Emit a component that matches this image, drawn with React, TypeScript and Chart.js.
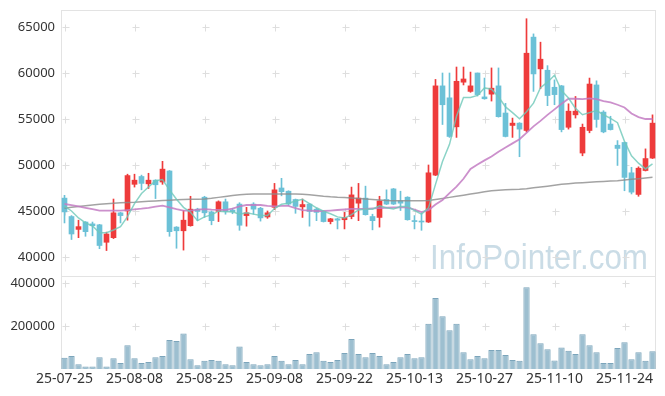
import React, { useEffect, useRef } from 'react';
import { Chart, registerables } from 'chart.js';

Chart.register(...registerables);

const dates = [
  '25-07-25', '25-07-28', '25-07-29', '25-07-30', '25-07-31', '25-08-01', '25-08-04', '25-08-05', '25-08-06', '25-08-07',
  '25-08-08', '25-08-11', '25-08-12', '25-08-13', '25-08-14', '25-08-18', '25-08-19', '25-08-20', '25-08-21', '25-08-22',
  '25-08-25', '25-08-26', '25-08-27', '25-08-28', '25-08-29', '25-09-01', '25-09-02', '25-09-03', '25-09-04', '25-09-05',
  '25-09-08', '25-09-09', '25-09-10', '25-09-11', '25-09-12', '25-09-15', '25-09-16', '25-09-17', '25-09-18', '25-09-19',
  '25-09-22', '25-09-23', '25-09-24', '25-09-25', '25-09-26', '25-09-29', '25-09-30', '25-10-01', '25-10-02', '25-10-10',
  '25-10-13', '25-10-14', '25-10-15', '25-10-16', '25-10-17', '25-10-20', '25-10-21', '25-10-22', '25-10-23', '25-10-24',
  '25-10-27', '25-10-28', '25-10-29', '25-10-30', '25-10-31', '25-11-03', '25-11-04', '25-11-05', '25-11-06', '25-11-07',
  '25-11-10', '25-11-11', '25-11-12', '25-11-13', '25-11-14', '25-11-17', '25-11-18', '25-11-19', '25-11-20', '25-11-21',
  '25-11-24', '25-11-25', '25-11-26', '25-11-27', '25-11-28',
];

const opens = [
  46400, 44400, 43000, 43800, 43600, 43500, 41600, 42100, 44800, 45000,
  47900, 48750, 47950, 48350, 48150, 49350, 43250, 42850, 43400, 45200,
  46500, 44900, 44950, 46000, 45100, 45750, 44500, 45750, 45300, 44350,
  45400, 47500, 47150, 46250, 45450, 45750, 45200, 44950, 43850, 44150,
  44050, 44400, 45850, 46400, 44400, 44300, 46250, 47400, 46100, 46500,
  43900, 43900, 43800, 48900, 58600, 57300, 54150, 59000, 58000, 60000,
  57400, 57700, 58600, 55650, 54300, 54550, 53750, 63900, 60450, 60300,
  58450, 58600, 54100, 55450, 51300, 53750, 58700, 55750, 54450, 52150,
  52450, 49150, 46800, 49400, 50750,
];

const highs = [
  46700, 44500, 44000, 43850, 43800, 43550, 42700, 46300, 44850, 49000,
  49000, 48900, 49100, 48400, 50400, 49400, 43300, 45050, 46600, 45300,
  46600, 45000, 46100, 46300, 45300, 45900, 45400, 45900, 45400, 45000,
  48000, 48550, 47200, 46300, 46300, 45800, 45300, 45000, 44200, 44200,
  44850, 47600, 48000, 47700, 44650, 46600, 47300, 47450, 47150, 46550,
  44500, 44800, 50000, 59300, 60000, 60000, 60650, 60650, 60100, 60000,
  59450, 60550, 60550, 56700, 55100, 54600, 65900, 64250, 63350, 60800,
  59250, 58650, 56650, 57450, 54450, 59450, 59150, 55900, 55300, 52650,
  52500, 49750, 49800, 51750, 55450,
];

const lows = [
  43700, 41900, 42100, 42250, 42300, 40900, 40700, 42000, 43700, 44000,
  47600, 47300, 47450, 46350, 47900, 42250, 40950, 40750, 43350, 43950,
  44300, 43500, 43850, 44650, 44700, 42900, 43350, 44650, 43900, 44200,
  45150, 46650, 45600, 44750, 44300, 43350, 43950, 43800, 43600, 43050,
  43050, 44150, 43950, 44550, 42950, 43250, 45700, 45700, 45050, 44000,
  43050, 42900, 43750, 48850, 54400, 53000, 53000, 58700, 57900, 57500,
  57150, 56950, 55200, 53050, 53000, 50900, 53600, 58000, 58300, 56450,
  56550, 53600, 53900, 55100, 51000, 53500, 54100, 53500, 53800, 49950,
  47200, 46850, 46600, 49350, 50700,
];

const closes = [
  44900, 42500, 43300, 42750, 43400, 41250, 42500, 44800, 44500, 48850,
  48350, 48000, 48350, 47850, 49550, 42750, 42850, 44000, 45200, 44950,
  44800, 43950, 46000, 44950, 44900, 43450, 44800, 45200, 44250, 44800,
  47300, 47100, 45750, 45500, 45700, 44950, 44850, 43850, 44150, 44000,
  44300, 46750, 46400, 44600, 43950, 46100, 45750, 45750, 45850, 44050,
  43850, 43800, 49150, 58600, 56550, 53100, 59100, 59350, 58600, 57650,
  57200, 58350, 55250, 53100, 54550, 53900, 62150, 59900, 61500, 57550,
  57650, 53850, 55850, 55850, 54100, 58800, 54950, 53600, 53850, 51800,
  48650, 47050, 49650, 50700, 54550,
];

const ma5 = [
  45540, 45000, 44240, 43700, 43370, 42640, 42640, 42940, 43290, 44380,
  45800, 46900, 47610, 48280, 48420, 47300, 46270, 45400, 44870, 43950,
  44360, 44580, 44980, 44930, 44920, 44650, 44820, 44660, 44520, 44500,
  45270, 45730, 45840, 46090, 46270, 45800, 45350, 44970, 44700, 44360,
  44230, 44610, 45120, 45210, 45200, 45560, 45360, 45230, 45480, 45500,
  45050, 44660, 45340, 47890, 50390, 52240, 55300, 57340, 57340, 57560,
  58380, 58230, 57410, 56310, 55690, 55030, 55790, 56720, 58400, 59000,
  59750, 58090, 57280, 56150, 55460, 55690, 55910, 55460, 55060, 54600,
  52570, 50990, 50200, 49570, 50120,
];

const ma20 = [
  45760, 45650, 45500, 45350, 45200, 45050, 45030, 45030, 45030, 45100,
  45180, 45250, 45350, 45480, 45580, 45400, 45200, 45050, 45030, 45150,
  45200, 45140, 45120, 45110, 45250, 45500, 45650, 45650, 45650, 45560,
  45500, 45550, 45560, 45300, 45100, 45050, 45000, 45000, 45050, 45110,
  45160, 45220, 45220, 45240, 45280, 45320, 45350, 45380, 45400, 45400,
  45150, 44880, 45100, 45700, 46200, 46950, 47650, 48500, 49570, 50050,
  50500, 50930, 51450, 51900, 52350, 52800, 53500, 54200, 54800, 55450,
  56050, 56650, 57200, 57200, 57150, 57250, 57150, 56950, 56800, 56550,
  56250, 55600, 55200, 55000, 55000,
];

const ma60 = [
  45300, 45400, 45500, 45580, 45650, 45720, 45790, 45850, 45900, 45930,
  45950, 46000, 46050, 46090, 46130, 46170, 46210, 46240, 46270, 46290,
  46310, 46380, 46480, 46580, 46680, 46760, 46820, 46850, 46860, 46860,
  46860, 46860, 46850, 46850, 46820, 46760, 46680, 46600, 46540, 46500,
  46480, 46420, 46360, 46310, 46260, 46200, 46150, 46120, 46120, 46120,
  46120, 46120, 46140, 46250, 46370, 46480, 46600, 46720, 46840, 46960,
  47080, 47200, 47250, 47300, 47330, 47360, 47430, 47520, 47610, 47700,
  47800, 47900, 47970, 48040, 48080, 48130, 48170, 48210, 48250, 48300,
  48370, 48440, 48510, 48590, 48660,
];

const volumes = [
  52000, 60000, 22000, 12000, 12000, 55000, 12000, 50000, 28000, 110000,
  50000, 28000, 32000, 55000, 60000, 135000, 130000, 165000, 45000, 18000,
  38000, 42000, 38000, 22000, 18000, 105000, 32000, 22000, 18000, 22000,
  60000, 38000, 22000, 42000, 22000, 70000, 78000, 38000, 32000, 42000,
  75000, 140000, 70000, 55000, 75000, 60000, 22000, 32000, 55000, 70000,
  50000, 55000, 210000, 330000, 245000, 180000, 210000, 78000, 45000, 60000,
  50000, 88000, 88000, 65000, 42000, 38000, 380000, 162000, 120000, 92000,
  40000, 100000, 85000, 70000, 162000, 110000, 78000, 28000, 28000, 98000,
  125000, 45000, 78000, 38000, 82000,
];

const priceTicks = [40000, 45000, 50000, 55000, 60000, 65000];
const volumeTicks = [200000, 400000];
const labelEvery = 10;
const watermark = 'InfoPointer.com';

const UP = '#ee3b3b';
const DOWN = '#6cc1d7';
const FONT = "'Noto Sans', sans-serif";

function gridPlugin(id: string, tickValues: number[], yKey: string, frame: 'all' | 'sides', mark: boolean) {
  return {
    id,
    beforeDatasetsDraw(chart: any) {
      const { ctx, chartArea } = chart;
      const { left, right, top, bottom } = chartArea;
      const xs = chart.scales.x;
      const ys = chart.scales[yKey];
      ctx.save();
      if (mark) {
        ctx.font = `35px 'Liberation Sans', sans-serif`;
        const w = ctx.measureText(watermark).width;
        const target = 218;
        ctx.translate(right - 8, bottom - 8);
        ctx.scale(target / w, 1);
        ctx.textAlign = 'right';
        ctx.textBaseline = 'alphabetic';
        ctx.fillStyle = 'rgba(150,185,205,0.5)';
        ctx.fillText(watermark, 0, 0);
        ctx.setTransform(1, 0, 0, 1, 0, 0);
      }
      ctx.strokeStyle = '#dedede';
      ctx.lineWidth = 1;
      ctx.beginPath();
      for (let i = 0; i < dates.length; i += labelEvery) {
        const px = Math.round(xs.getPixelForValue(i)) + 0.5;
        for (const v of tickValues) {
          const py = Math.round(ys.getPixelForValue(v)) + 0.5;
          ctx.moveTo(px - 3, py);
          ctx.lineTo(px + 4, py);
          ctx.moveTo(px, py - 3);
          ctx.lineTo(px, py + 4);
        }
      }
      ctx.stroke();
      ctx.strokeStyle = '#e3e3e3';
      ctx.beginPath();
      ctx.moveTo(left + 0.5, top);
      ctx.lineTo(left + 0.5, bottom);
      ctx.moveTo(right - 0.5, top);
      ctx.lineTo(right - 0.5, bottom);
      if (frame === 'all') {
        ctx.moveTo(left, top + 0.5);
        ctx.lineTo(right, top + 0.5);
        ctx.moveTo(left, bottom - 0.5);
        ctx.lineTo(right, bottom - 0.5);
      }
      ctx.stroke();
      ctx.restore();
    },
  };
}

const fitY = (s: any) => {
  s.width = 61;
  s.paddingTop = 0;
  s.paddingBottom = 0;
};

export default function App() {
  const priceRef = useRef<HTMLCanvasElement>(null);
  const volRef = useRef<HTMLCanvasElement>(null);

  useEffect(() => {
    const colors = closes.map((c, i) => (c >= opens[i] ? UP : DOWN));
    const price = new Chart(priceRef.current as HTMLCanvasElement, {
      type: 'bar',
      data: {
        labels: dates,
        datasets: [
          {
            type: 'line',
            data: ma5,
            borderColor: 'rgba(110,200,185,0.8)',
            borderWidth: 1.5,
            pointRadius: 0,
            order: 0,
          } as any,
          {
            type: 'line',
            data: ma20,
            borderColor: 'rgba(195,125,195,0.85)',
            borderWidth: 1.8,
            pointRadius: 0,
            order: 0,
          } as any,
          {
            type: 'line',
            data: ma60,
            borderColor: 'rgba(140,140,140,0.8)',
            borderWidth: 1.5,
            pointRadius: 0,
            order: 0,
          } as any,
          {
            type: 'bar',
            data: lows.map((l, i) => [l, highs[i]]),
            backgroundColor: colors,
            barThickness: 1,
            grouped: false,
            borderWidth: 0,
            order: 2,
          } as any,
          {
            type: 'bar',
            data: opens.map((o, i) => [o, closes[i]]),
            backgroundColor: colors,
            barThickness: 5,
            grouped: false,
            borderWidth: 0,
            minBarLength: 1,
            order: 1,
          } as any,
        ],
      },
      options: {
        animation: false,
        responsive: true,
        maintainAspectRatio: false,
        layout: { padding: { left: 0, right: 9, top: 10, bottom: 1 } },
        plugins: { legend: { display: false }, tooltip: { enabled: false } },
        scales: {
          x: { display: false, offset: true },
          y: {
            min: 37825,
            max: 66848,
            afterFit: fitY,
            afterBuildTicks: (s: any) => { s.ticks = priceTicks.map((v) => ({ value: v })); },
            grid: { display: false, drawTicks: false },
            border: { display: false },
            ticks: {
              padding: 6,
              color: '#333',
              font: { family: FONT, size: 13 },
              callback: (v: any) => String(v),
            },
          },
        },
      },
      plugins: [gridPlugin('pgrid', priceTicks, 'y', 'all', true)],
    });

    const vol = new Chart(volRef.current as HTMLCanvasElement, {
      type: 'bar',
      data: {
        labels: dates,
        datasets: [
          {
            data: volumes,
            backgroundColor: 'rgba(140,180,200,0.85)',
            borderColor: 'rgba(110,155,180,0.9)',
            borderWidth: 1,
            borderSkipped: 'bottom',
            barPercentage: 0.9,
            categoryPercentage: 1,
          },
        ],
      },
      options: {
        animation: false,
        responsive: true,
        maintainAspectRatio: false,
        layout: { padding: { left: 0, right: 9, top: 7, bottom: 9 } },
        plugins: { legend: { display: false }, tooltip: { enabled: false } },
        scales: {
          x: {
            offset: true,
            grid: { display: false, drawTicks: false },
            border: { display: false },
            afterFit: (s: any) => {
              s.height = 18;
              s.paddingLeft = 0;
              s.paddingRight = 0;
            },
            ticks: {
              autoSkip: false,
              maxRotation: 0,
              minRotation: 0,
              padding: 2,
              color: '#333',
              font: { family: FONT, size: 14 },
              callback: (_v: any, i: number) => (i % labelEvery === 0 ? dates[i] : null),
            },
          },
          y: {
            min: 0,
            max: 428000,
            afterFit: fitY,
            afterBuildTicks: (s: any) => { s.ticks = volumeTicks.map((v) => ({ value: v })); },
            grid: { display: false, drawTicks: false },
            border: { display: false },
            ticks: {
              padding: 6,
              color: '#333',
              font: { family: FONT, size: 13 },
              callback: (v: any) => String(v),
            },
          },
        },
      },
      plugins: [gridPlugin('vgrid', volumeTicks, 'y', 'sides', false)],
    });

    return () => {
      price.destroy();
      vol.destroy();
    };
  }, []);

  return (
    <div style={{ position: 'absolute', left: 0, top: 0, width: 665, height: 396, background: '#fff' }}>
      <div style={{ position: 'absolute', left: 0, top: 0, width: 665, height: 278 }}>
        <canvas ref={priceRef} />
      </div>
      <div style={{ position: 'absolute', left: 0, top: 270, width: 665, height: 126 }}>
        <canvas ref={volRef} />
      </div>
    </div>
  );
}
